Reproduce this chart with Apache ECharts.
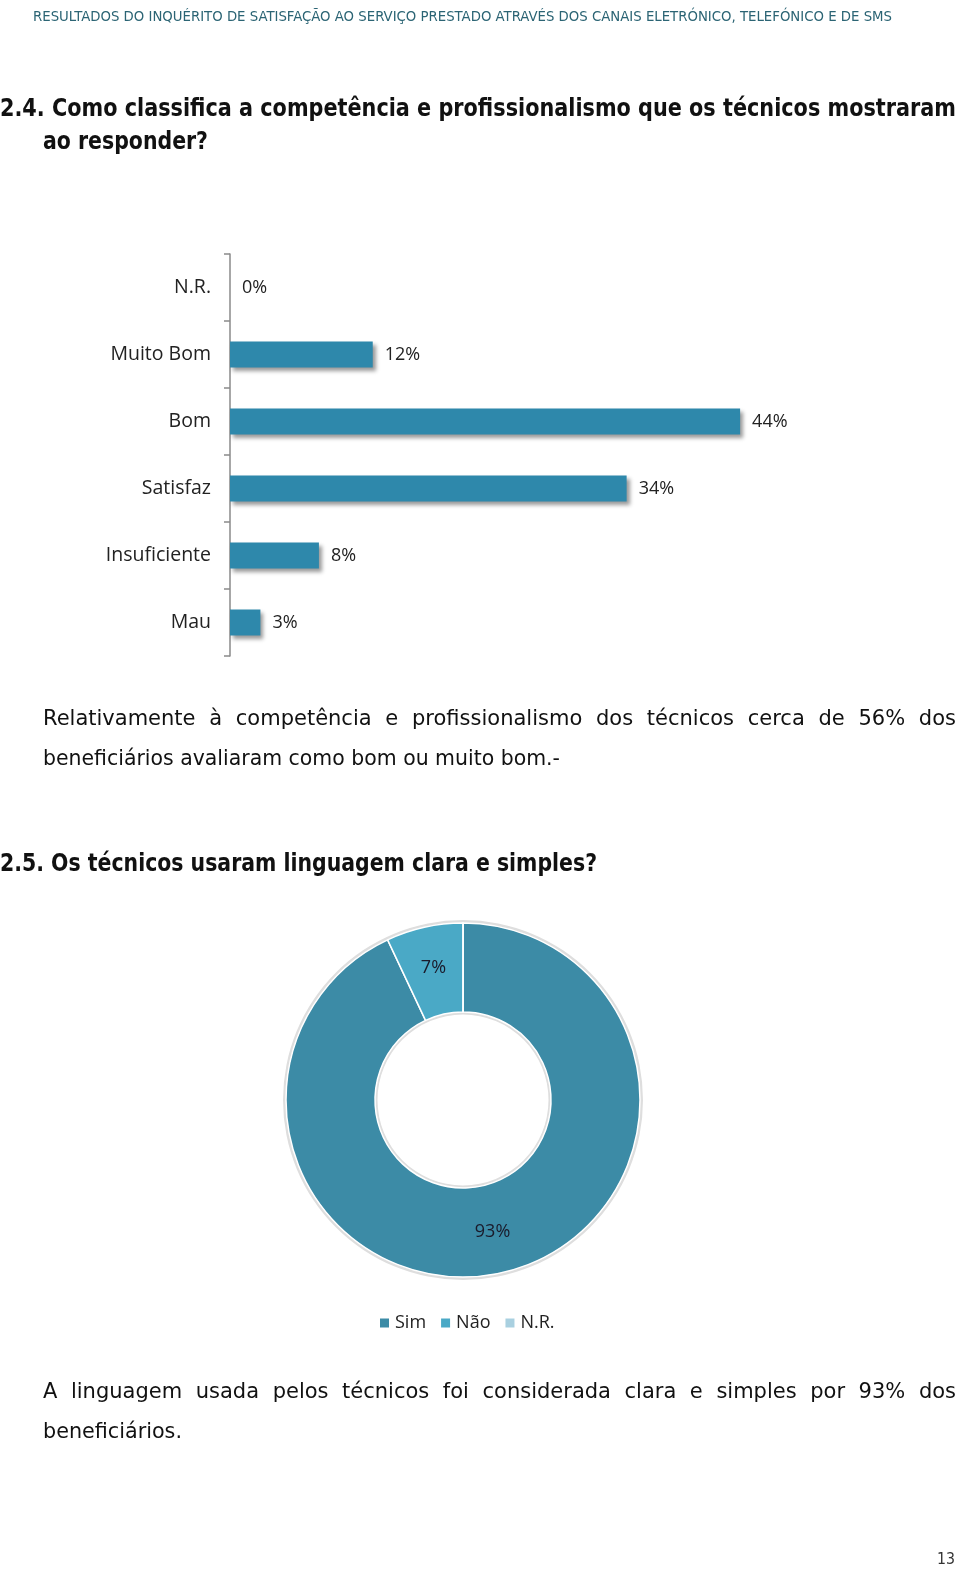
<!DOCTYPE html>
<html><head><meta charset="utf-8">
<script src="https://cdn.jsdelivr.net/npm/echarts/dist/echarts.min.js"></script>
<style>
html,body{margin:0;padding:0;background:#fff;}
#page{position:relative;width:960px;height:1573px;overflow:hidden;background:#fff;}
#chart{position:absolute;left:0;top:0;width:960px;height:1573px;}
.t{position:absolute;white-space:nowrap;line-height:1;transform-origin:0 50%;}
</style>
</head><body>
<div id="page"><div id="chart"></div></div>
<script>
// ---- data ----
const barCategories = ['N.R.', 'Muito Bom', 'Bom', 'Satisfaz', 'Insuficiente', 'Mau'];
const barValues = [0, 12.2, 43.6, 33.9, 7.6, 2.6];
const pieCategories = ['Sim', 'Não', 'N.R.'];
const pieValues = [93, 7, 0];
const pieColors = ['#3c8ba6', '#4aa9c6', '#a9d0e0'];

// ---- text ----
const page = document.getElementById('page');
const HF = '"DejaVu Sans Condensed", "DejaVu Sans"';
const PF = '"DejaVu Sans"';
const texts = [
  {s:'RESULTADOS DO INQUÉRITO DE SATISFAÇÃO AO SERVIÇO PRESTADO ATRAVÉS DOS CANAIS ELETRÓNICO, TELEFÓNICO E DE SMS', x:33, y:16, size:14, w:'normal', c:'#2b6474', mode:'fit', target:859, f:HF},
  {s:'2.4. Como classifica a competência e profissionalismo que os técnicos mostraram', x:0, y:108, size:24, w:'bold', c:'#111', mode:'fit', target:956, f:HF},
  {s:'ao responder?', x:43, y:141, size:24, w:'bold', c:'#111', mode:'fit', target:165, f:HF},
  {s:'Relativamente à competência e profissionalismo dos técnicos cerca de 56% dos', x:43, y:718, size:21, w:'normal', c:'#111', mode:'justify', target:913, f:PF},
  {s:'beneficiários avaliaram como bom ou muito bom.-', x:43, y:758, size:21, w:'normal', c:'#111', mode:'fit', target:517, f:PF},
  {s:'2.5. Os técnicos usaram linguagem clara e simples?', x:0, y:863, size:24, w:'bold', c:'#111', mode:'fit', target:597, f:HF},
  {s:'A linguagem usada pelos técnicos foi considerada clara e simples por 93% dos', x:43, y:1391, size:21, w:'normal', c:'#111', mode:'justify', target:913, f:PF},
  {s:'beneficiários.', x:43, y:1431, size:21, w:'normal', c:'#111', mode:'fit', target:139, f:PF},
  {s:'13', x:937, y:1559, size:16, w:'normal', c:'#333', mode:'fit', target:18, f:PF}
];
const els = texts.map(t => {
  const d = document.createElement('div');
  d.className = 't';
  d.textContent = t.s;
  d.style.left = t.x + 'px';
  d.style.top = (t.y - t.size / 2) + 'px';
  d.style.fontSize = t.size + 'px';
  d.style.fontWeight = t.w;
  d.style.color = t.c;
  d.style.fontFamily = t.f;
  page.appendChild(d);
  return d;
});
function layoutText() {
  texts.forEach((t, i) => {
    const d = els[i];
    d.style.transform = 'none';
    d.style.wordSpacing = '0px';
    const w = d.getBoundingClientRect().width;
    if (t.mode === 'fit') {
      d.style.transform = 'scaleX(' + (t.target / w) + ')';
    } else {
      const n = (t.s.match(/ /g) || []).length;
      const extra = (t.target - w) / n;
      if (extra < 0) {
        d.style.transform = 'scaleX(' + (t.target / w) + ')';
      } else {
        d.style.wordSpacing = extra + 'px';
      }
    }
  });
}
layoutText();
if (document.fonts && document.fonts.ready) document.fonts.ready.then(layoutText);

// ---- chart ----
const chart = echarts.init(document.getElementById('chart'), null, {renderer: 'canvas'});
const lblFont = '"Open Sans", sans-serif';
chart.setOption({
  animation: false,
  textStyle: {fontFamily: lblFont},
  grid: {left: 230, top: 254, width: 585, height: 402, containLabel: false},
  xAxis: {type: 'value', min: 0, max: 50, show: false},
  yAxis: {
    type: 'category', data: barCategories, inverse: true,
    axisLine: {show: true, lineStyle: {color: '#8a8a8a', width: 1.5}},
    axisTick: {show: true, length: 6, lineStyle: {color: '#8a8a8a', width: 1.5}},
    axisLabel: {fontSize: 19.5, color: '#222', margin: 19, fontFamily: lblFont},
    splitLine: {show: false}
  },
  legend: {
    data: pieCategories, left: 373, top: 1309, icon: 'rect',
    itemWidth: 11, itemHeight: 11, itemGap: 13,
    textStyle: {fontSize: 18, color: '#222', fontFamily: lblFont}
  },
  series: [
    {
      type: 'bar', data: barValues, barWidth: 26,
      itemStyle: {color: '#2e88ab', shadowColor: 'rgba(0,0,0,0.4)', shadowBlur: 4, shadowOffsetX: 3, shadowOffsetY: 3},
      label: {show: true, position: 'right', distance: 12, fontSize: 18, color: '#222', fontFamily: lblFont,
        formatter: p => Math.round(p.value) + '%'}
    },
    {
      type: 'pie', center: [463, 1100], radius: [177, 180], silent: true, legendHoverLink: false,
      label: {show: false}, itemStyle: {color: '#dedede'},
      data: [{value: 1, name: '_outer'}], z: 1
    },
    {
      type: 'pie', center: [463, 1100], radius: [85.5, 88], silent: true, legendHoverLink: false,
      label: {show: false}, itemStyle: {color: '#dedede'},
      data: [{value: 1, name: '_inner'}], z: 1
    },
    {
      type: 'pie', center: [463, 1100], radius: [88, 177], startAngle: 90, clockwise: true,
      color: pieColors, z: 2,
      itemStyle: {borderColor: '#fff', borderWidth: 1.5},
      label: {show: true, position: 'inside', fontSize: 18, color: '#1a1a2a', fontFamily: lblFont,
        formatter: p => p.value + '%'},
      labelLine: {show: false},
      data: pieCategories.map((n, i) => ({name: n, value: pieValues[i], label: {show: pieValues[i] > 0}}))
    }
  ]
});
</script>
</body></html>
